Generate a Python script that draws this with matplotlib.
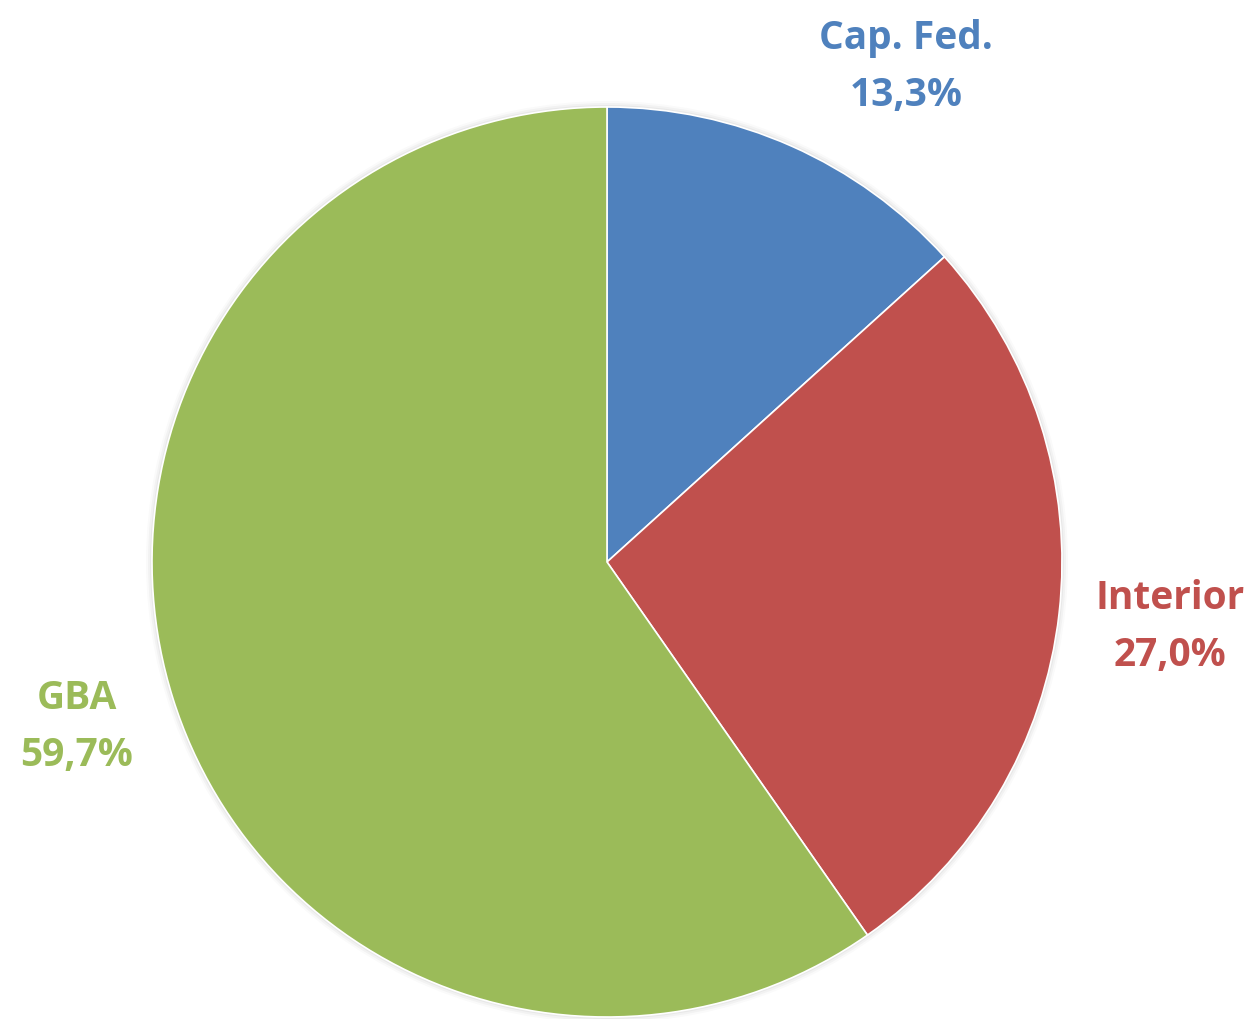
import matplotlib.pyplot as plt

categories = ["Cap. Fed.", "Interior", "GBA"]
shares = [13.3, 27.0, 59.7]
colors = ["#4F81BD", "#C0504D", "#9BBB59"]
# label anchor points in pixel space (x, y from top)
label_pos = [(906, 67), (1170, 627), (77, 727)]

W, H = 1255, 1019
fig = plt.figure(figsize=(W / 100, H / 100), dpi=100)
ax = fig.add_axes([0, 0, 1, 1])

# soft shadow ring
for i, a in enumerate([0.04, 0.03, 0.02]):
    ax.add_patch(plt.Circle((607, H - 562), 457 + i * 2, color="black", alpha=a, lw=0))

ax.pie(shares, colors=colors, startangle=90, counterclock=False,
       center=(607, H - 562), radius=455, frame=True,
       wedgeprops=dict(linewidth=1.2, edgecolor="white"))
ax.set_xlim(0, W)
ax.set_ylim(0, H)
ax.set_aspect("equal")
ax.axis("off")

for cat, val, col, (x, y) in zip(categories, shares, colors, label_pos):
    txt = cat + "\n" + f"{val:.1f}".replace(".", ",") + "%"
    ax.text(x, H - y, txt, color=col, fontsize=28, fontweight="bold",
            family="Open Sans", ha="center", va="center", linespacing=1.62)

fig.savefig("out.png", dpi=100)
